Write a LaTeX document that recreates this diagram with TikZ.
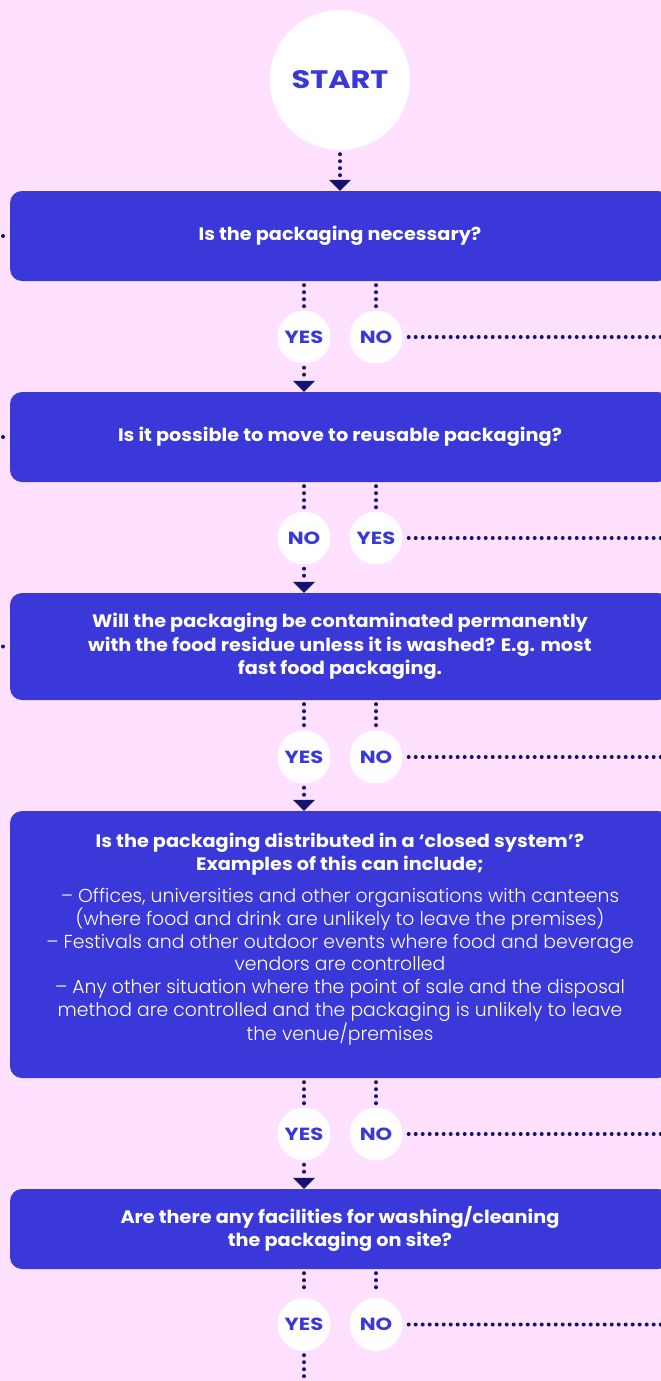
\documentclass[tikz,border=0pt]{standalone}
\usepackage{fontspec}
\setmainfont{Poppins}[FakeStretch=1.07]
\newfontfamily\capsfont{Poppins}[FakeStretch=1.2]
\newfontfamily\lightfont{Poppins Light}
\usetikzlibrary{arrows.meta}

\definecolor{bgPink}{RGB}{255,225,255}
\definecolor{boxBlue}{RGB}{58,56,216}
\definecolor{dotNavy}{RGB}{20,20,110}
\newcommand\plainline{\lightfont\mdseries\fontsize{18.8}{22.7}\selectfont}

\begin{document}
\begin{tikzpicture}[x=1pt,y=-1pt,
  question/.style={rectangle, rounded corners=12pt, fill=boxBlue, text=white,
    minimum width=660pt, align=center, font=\bfseries\fontsize{18}{23.5}\selectfont},
  answer/.style={circle, fill=white, minimum size=53pt, inner sep=0pt, text=boxBlue,
    font=\capsfont\bfseries\fontsize{17.6}{18}\selectfont},
  dotline/.style={draw=dotNavy, line width=4pt, line cap=round, dash pattern=on 0pt off 7pt},
  arrowin/.style={-{Triangle[width=22pt,length=11pt,line width=0pt 0]}, shorten <=4pt}]
  \useasboundingbox (0,0) rectangle (661,1381);
  \fill[bgPink] (0,0) rectangle (661,1381);
  \clip (0,0) rectangle (661,1381);
  \coordinate (lft) at (3,0);
  \coordinate (rgt) at (670,0);
  \coordinate (bot) at (0,1400);

  % Start
  \node[circle, fill=white, minimum size=140pt, text=boxBlue,
    font=\capsfont\bfseries\fontsize{25.3}{26}\selectfont] (start) at (340,80) {START};

  % Questions
  \node[question, minimum height=90pt] (q1) at (340,236) {Is the packaging necessary?};
  \node[question, minimum height=90pt] (q2) at (340,437) {Is it possible to move to reusable packaging?};
  \node[question, minimum height=107pt] (q3) at (340,646.5)
    {Will the packaging be contaminated permanently\\with the food residue unless it is washed? E.g. most\\fast food packaging.};
  \node[question, minimum height=267pt, text depth=16pt,
    font=\bfseries\fontsize{18}{22.7}\selectfont] (q4) at (340,944.5)
    {Is the packaging distributed in a ‘closed system’?\\Examples of this can include;\\[10pt]
     \plainline – Offices, universities and other organisations with canteens\\
     \plainline (where food and drink are unlikely to leave the premises)\\
     \plainline – Festivals and other outdoor events where food and beverage\\
     \plainline vendors are controlled\\
     \plainline – Any other situation where the point of sale and the disposal\\
     \plainline method are controlled and the packaging is unlikely to leave\\
     \plainline the venue/premises};
  \node[question, minimum height=80pt] (q5) at (340,1229)
    {Are there any facilities for washing/cleaning\\the packaging on site?};

  % Answers
  \node[answer] (y1) at (304,337) {YES};
  \node[answer] (n1) at (376,337) {NO};
  \node[answer] (n2) at (304,538) {NO};
  \node[answer] (y2) at (376,538) {YES};
  \node[answer] (y3) at (304,757) {YES};
  \node[answer] (n3) at (376,757) {NO};
  \node[answer] (y4) at (304,1134) {YES};
  \node[answer] (n4) at (376,1134) {NO};
  \node[answer] (y5) at (304,1324.5) {YES};
  \node[answer] (n5) at (376,1324.5) {NO};

  % Left ends
  \fill[dotNavy] (lft |- q1) circle (2pt);
  \fill[dotNavy] (lft |- q2) circle (2pt);
  \fill[dotNavy] (lft |- q3) circle (2pt);

  % Main line
  \draw[dotline, arrowin] (start.south) -- (q1.north);
  \draw[dotline, shorten <=4pt, shorten >=4pt] (q1.south -| y1) -- (y1.north);
  \draw[dotline, shorten <=4pt, shorten >=4pt] (q1.south -| n1) -- (n1.north);
  \draw[dotline, arrowin] (y1.south) -- (q2.north -| y1);
  \draw[dotline, shorten <=4pt, shorten >=4pt] (q2.south -| n2) -- (n2.north);
  \draw[dotline, shorten <=4pt, shorten >=4pt] (q2.south -| y2) -- (y2.north);
  \draw[dotline, arrowin] (n2.south) -- (q3.north -| n2);
  \draw[dotline, shorten <=4pt, shorten >=4pt] (q3.south -| y3) -- (y3.north);
  \draw[dotline, shorten <=4pt, shorten >=4pt] (q3.south -| n3) -- (n3.north);
  \draw[dotline, arrowin] (y3.south) -- (q4.north -| y3);
  \draw[dotline, shorten <=4pt, shorten >=4pt] (q4.south -| y4) -- (y4.north);
  \draw[dotline, shorten <=4pt, shorten >=4pt] (q4.south -| n4) -- (n4.north);
  \draw[dotline, arrowin] (y4.south) -- (q5.north -| y4);
  \draw[dotline, shorten <=4pt, shorten >=4pt] (q5.south -| y5) -- (y5.north);
  \draw[dotline, shorten <=4pt, shorten >=4pt] (q5.south -| n5) -- (n5.north);
  \draw[dotline, shorten <=4pt] (y5.south) -- (y5 |- bot);

  % Side exits
  \draw[dotline, shorten <=6pt] (n1.east) -- (n1 -| rgt);
  \draw[dotline, shorten <=6pt] (y2.east) -- (y2 -| rgt);
  \draw[dotline, shorten <=6pt] (n3.east) -- (n3 -| rgt);
  \draw[dotline, shorten <=6pt] (n4.east) -- (n4 -| rgt);
  \draw[dotline, shorten <=6pt] (n5.east) -- (n5 -| rgt);
\end{tikzpicture}
\end{document}
